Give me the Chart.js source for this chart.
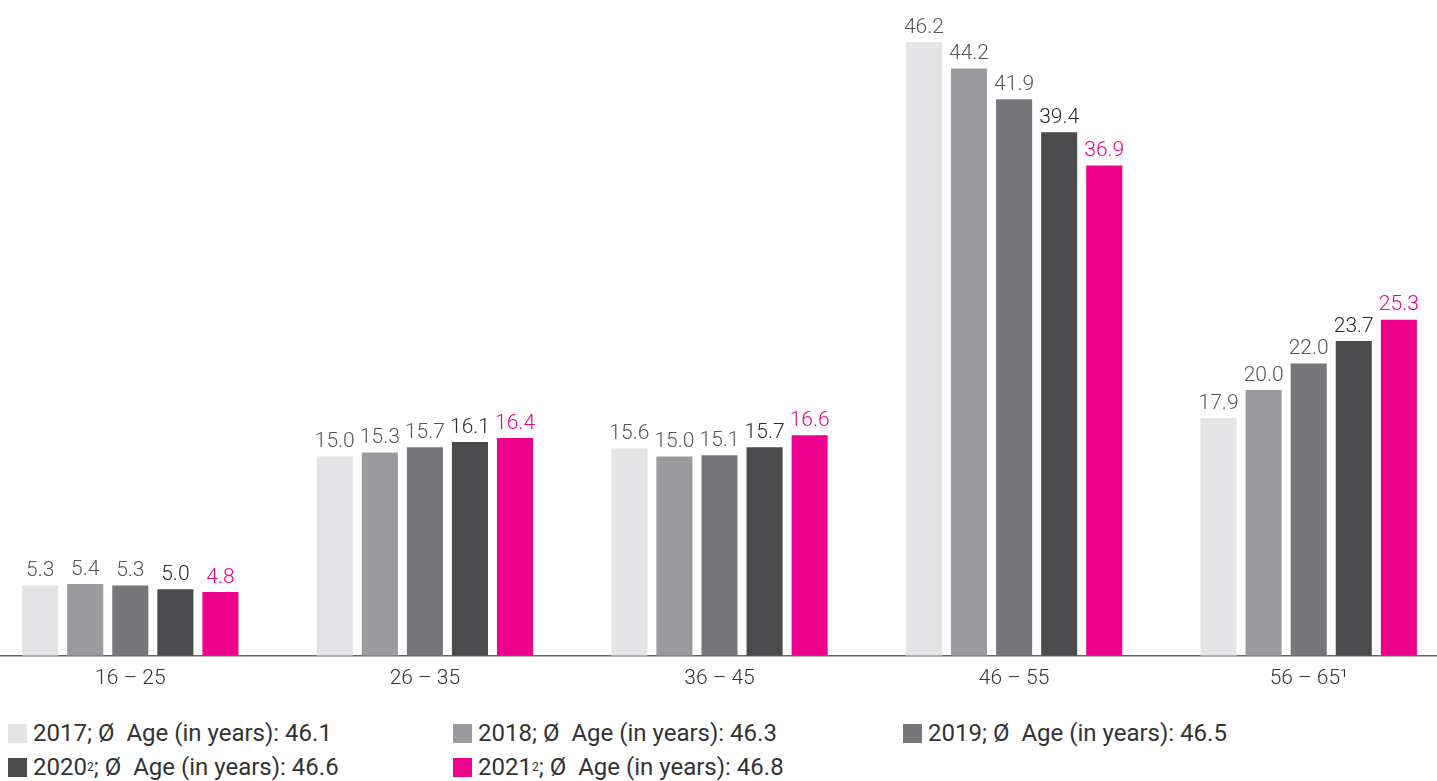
<!DOCTYPE html>
<html>
<head>
<meta charset="utf-8">
<script src="https://cdn.jsdelivr.net/npm/chart.js@4"></script>
<style>
  html, body { margin: 0; padding: 0; background: #fff; overflow: hidden; }
  body { width: 1437px; height: 781px; position: relative; font-family: Roboto, sans-serif; }
  #wrap { position: absolute; left: -17px; top: 0; width: 1473px; height: 693px; }
  #legend { position: absolute; left: 8px; top: 716px; width: 1420px; }
  .row { display: flex; height: 34px; align-items: center; }
  .item { display: flex; align-items: center; font-size: 24px; font-weight: 400; color: #333; }
  .item .sw { width: 19px; height: 19px; margin-right: 6px; }
  .item:nth-child(1) { width: 445px; }
  .item:nth-child(2) { width: 450px; }
  sup { font-size: 12px; vertical-align: 10px; line-height: 0; }
</style>
</head>
<body>
<div id="wrap"><canvas id="ageChart"></canvas></div>
<div id="legend"></div>
<script>
const categories = ['16 – 25', '26 – 35', '36 – 45', '46 – 55', '56 – 65¹'];
const years = ['2017', '2018', '2019', '2020', '2021'];
const yearNotes = ['', '', '', '2', '2'];
const avgAge = [46.1, 46.3, 46.5, 46.6, 46.8];
const values2017 = [5.3, 15.0, 15.6, 46.2, 17.9];
const values2018 = [5.4, 15.3, 15.0, 44.2, 20.0];
const values2019 = [5.3, 15.7, 15.1, 41.9, 22.0];
const values2020 = [5.0, 16.1, 15.7, 39.4, 23.7];
const values2021 = [4.8, 16.4, 16.6, 36.9, 25.3];
const barColors = ['#e4e4e6', '#9b9b9f', '#77777b', '#4b4b4d', '#ec008c'];
const labelColors = ['#555555', '#555555', '#555555', '#2a2a2a', '#ec008c'];

const seriesValues = [values2017, values2018, values2019, values2020, values2021];

const valueLabels = {
  id: 'valueLabels',
  afterDatasetsDraw(chart) {
    const ctx = chart.ctx;
    ctx.save();
    ctx.font = '300 21px Roboto, sans-serif';
    ctx.textAlign = 'center';
    ctx.textBaseline = 'bottom';
    chart.data.datasets.forEach((ds, i) => {
      const meta = chart.getDatasetMeta(i);
      ctx.fillStyle = labelColors[i];
      meta.data.forEach((bar, j) => {
        ctx.fillText(ds.data[j].toFixed(1), bar.x, bar.y - 4);
      });
    });
    ctx.restore();
  }
};

function renderLegend() {
  const legend = document.getElementById('legend');
  const rows = [[0, 1, 2], [3, 4]];
  rows.forEach(r => {
    const row = document.createElement('div');
    row.className = 'row';
    r.forEach(i => {
      const sup = yearNotes[i] ? `<sup>${yearNotes[i]}</sup>` : '';
      row.innerHTML += `<div class="item"><span class="sw" style="background:${barColors[i]}"></span>${years[i]}${sup};&nbsp;Ø&nbsp; Age (in years): ${avgAge[i].toFixed(1)}</div>`;
    });
    legend.appendChild(row);
  });
}

function renderChart() {
  const ctx = document.getElementById('ageChart').getContext('2d');
  new Chart(ctx, {
    type: 'bar',
    data: {
      labels: categories,
      datasets: years.map((y, i) => ({
        label: y,
        data: seriesValues[i],
        backgroundColor: barColors[i],
        barPercentage: 0.8,
        categoryPercentage: 0.765
      }))
    },
    options: {
      responsive: true,
      maintainAspectRatio: false,
      animation: false,
      layout: { padding: { top: 42, bottom: 0, left: 0, right: 0 } },
      plugins: { legend: { display: false }, tooltip: { enabled: false } },
      scales: {
        x: {
          grid: { display: false },
          border: { display: true, color: '#666', width: 1.5 },
          ticks: { color: '#333', font: { family: 'Roboto', size: 21, weight: '300' }, padding: 2 }
        },
        y: { display: false, min: 0, max: 46.2 }
      }
    },
    plugins: [valueLabels]
  });
}

renderLegend();
renderChart();
</script>
</body>
</html>
